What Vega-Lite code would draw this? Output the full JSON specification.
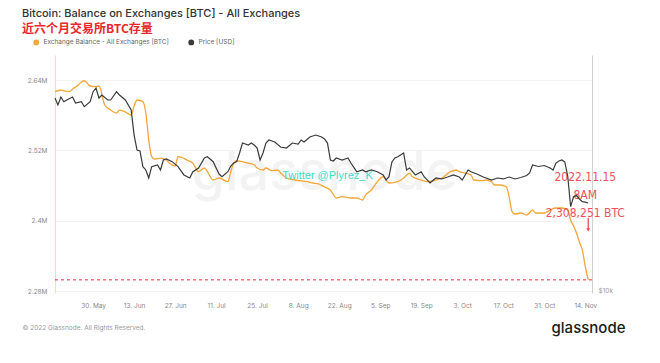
{
  "$schema": "https://vega.github.io/schema/vega-lite/v6.json",
  "width": 537,
  "height": 238,
  "autosize": {"type": "none"},
  "padding": {"left": 55, "top": 55, "right": 68, "bottom": 70},
  "background": "white",
  "config": {"view": {"stroke": null}, "font": "Inter"},
  "title": {
    "text": "Bitcoin: Balance on Exchanges [BTC] - All Exchanges",
    "subtitle": "近六个月交易所BTC存量",
    "anchor": "start",
    "frame": "group",
    "orient": "top",
    "dx": -33,
    "offset": 4,
    "font": "Inter",
    "fontSize": 11,
    "fontWeight": 500,
    "color": "#333333",
    "subtitleFont": "Noto Sans CJK SC",
    "subtitleFontSize": 12,
    "subtitleFontWeight": "bold",
    "subtitleColor": "#e8262c",
    "subtitlePadding": 5,
    "subtitleLineHeight": 13
  },
  "datasets": {
    "balance": [
      {"date": "2022-05-17", "value": 2620100},
      {"date": "2022-05-19", "value": 2623000},
      {"date": "2022-05-20", "value": 2621300},
      {"date": "2022-05-22", "value": 2620100},
      {"date": "2022-05-23", "value": 2624700},
      {"date": "2022-05-25", "value": 2631500},
      {"date": "2022-05-26", "value": 2636600},
      {"date": "2022-05-27", "value": 2638800},
      {"date": "2022-05-29", "value": 2629800},
      {"date": "2022-05-31", "value": 2628600},
      {"date": "2022-06-01", "value": 2629800},
      {"date": "2022-06-03", "value": 2597400},
      {"date": "2022-06-05", "value": 2588800},
      {"date": "2022-06-07", "value": 2583700},
      {"date": "2022-06-08", "value": 2588800},
      {"date": "2022-06-10", "value": 2585400},
      {"date": "2022-06-12", "value": 2580300},
      {"date": "2022-06-13", "value": 2595700},
      {"date": "2022-06-14", "value": 2605900},
      {"date": "2022-06-16", "value": 2603000},
      {"date": "2022-06-17", "value": 2583700},
      {"date": "2022-06-18", "value": 2537700},
      {"date": "2022-06-19", "value": 2509200},
      {"date": "2022-06-20", "value": 2505200},
      {"date": "2022-06-22", "value": 2506900},
      {"date": "2022-06-24", "value": 2503500},
      {"date": "2022-06-25", "value": 2498400},
      {"date": "2022-06-27", "value": 2493300},
      {"date": "2022-06-28", "value": 2509200},
      {"date": "2022-06-29", "value": 2508600},
      {"date": "2022-07-01", "value": 2503500},
      {"date": "2022-07-03", "value": 2498400},
      {"date": "2022-07-05", "value": 2483600},
      {"date": "2022-07-07", "value": 2489900},
      {"date": "2022-07-08", "value": 2483600},
      {"date": "2022-07-10", "value": 2469400},
      {"date": "2022-07-12", "value": 2472800},
      {"date": "2022-07-15", "value": 2466500},
      {"date": "2022-07-16", "value": 2483600},
      {"date": "2022-07-17", "value": 2498400},
      {"date": "2022-07-18", "value": 2502300},
      {"date": "2022-07-20", "value": 2500600},
      {"date": "2022-07-22", "value": 2498400},
      {"date": "2022-07-24", "value": 2495000},
      {"date": "2022-07-25", "value": 2489900},
      {"date": "2022-07-27", "value": 2486500},
      {"date": "2022-07-28", "value": 2489900},
      {"date": "2022-07-30", "value": 2485300},
      {"date": "2022-08-01", "value": 2486500},
      {"date": "2022-08-02", "value": 2481300},
      {"date": "2022-08-04", "value": 2472800},
      {"date": "2022-08-07", "value": 2469400},
      {"date": "2022-08-11", "value": 2466500},
      {"date": "2022-08-13", "value": 2464300},
      {"date": "2022-08-15", "value": 2462600},
      {"date": "2022-08-17", "value": 2457400},
      {"date": "2022-08-19", "value": 2452300},
      {"date": "2022-08-21", "value": 2438700},
      {"date": "2022-08-23", "value": 2440900},
      {"date": "2022-08-26", "value": 2438700},
      {"date": "2022-08-28", "value": 2438700},
      {"date": "2022-08-30", "value": 2435300},
      {"date": "2022-08-31", "value": 2443800},
      {"date": "2022-09-02", "value": 2452300},
      {"date": "2022-09-04", "value": 2466500},
      {"date": "2022-09-06", "value": 2475000},
      {"date": "2022-09-08", "value": 2464300},
      {"date": "2022-09-11", "value": 2466500},
      {"date": "2022-09-13", "value": 2472800},
      {"date": "2022-09-15", "value": 2481300},
      {"date": "2022-09-16", "value": 2475000},
      {"date": "2022-09-19", "value": 2469400},
      {"date": "2022-09-21", "value": 2466500},
      {"date": "2022-09-24", "value": 2469400},
      {"date": "2022-09-26", "value": 2472800},
      {"date": "2022-09-29", "value": 2483600},
      {"date": "2022-10-01", "value": 2486500},
      {"date": "2022-10-02", "value": 2483600},
      {"date": "2022-10-04", "value": 2481300},
      {"date": "2022-10-06", "value": 2477900},
      {"date": "2022-10-07", "value": 2469400},
      {"date": "2022-10-10", "value": 2468200},
      {"date": "2022-10-11", "value": 2469400},
      {"date": "2022-10-13", "value": 2466500},
      {"date": "2022-10-14", "value": 2460900},
      {"date": "2022-10-16", "value": 2460900},
      {"date": "2022-10-18", "value": 2458000},
      {"date": "2022-10-19", "value": 2440900},
      {"date": "2022-10-20", "value": 2415300},
      {"date": "2022-10-21", "value": 2411400},
      {"date": "2022-10-23", "value": 2413100},
      {"date": "2022-10-25", "value": 2409700},
      {"date": "2022-10-27", "value": 2418200},
      {"date": "2022-10-28", "value": 2413100},
      {"date": "2022-10-31", "value": 2413100},
      {"date": "2022-11-02", "value": 2418200},
      {"date": "2022-11-04", "value": 2421600},
      {"date": "2022-11-06", "value": 2421600},
      {"date": "2022-11-08", "value": 2418200},
      {"date": "2022-11-09", "value": 2401100},
      {"date": "2022-11-10", "value": 2391000},
      {"date": "2022-11-11", "value": 2378900},
      {"date": "2022-11-12", "value": 2363600},
      {"date": "2022-11-13", "value": 2349900},
      {"date": "2022-11-14", "value": 2321400},
      {"date": "2022-11-15", "value": 2299000}
    ],
    "price": [
      {"date": "2022-05-17", "price": 31120},
      {"date": "2022-05-18", "price": 29870},
      {"date": "2022-05-19", "price": 31300},
      {"date": "2022-05-20", "price": 30450},
      {"date": "2022-05-21", "price": 30760},
      {"date": "2022-05-23", "price": 31300},
      {"date": "2022-05-24", "price": 30220},
      {"date": "2022-05-26", "price": 30450},
      {"date": "2022-05-27", "price": 29570},
      {"date": "2022-05-29", "price": 30450},
      {"date": "2022-05-30", "price": 32300},
      {"date": "2022-05-31", "price": 33010},
      {"date": "2022-06-01", "price": 31120},
      {"date": "2022-06-02", "price": 31680},
      {"date": "2022-06-04", "price": 30760},
      {"date": "2022-06-05", "price": 30760},
      {"date": "2022-06-07", "price": 32300},
      {"date": "2022-06-08", "price": 31680},
      {"date": "2022-06-10", "price": 30760},
      {"date": "2022-06-12", "price": 29000},
      {"date": "2022-06-13", "price": 25030},
      {"date": "2022-06-14", "price": 22920},
      {"date": "2022-06-15", "price": 22790},
      {"date": "2022-06-16", "price": 20780},
      {"date": "2022-06-17", "price": 20380},
      {"date": "2022-06-18", "price": 19440},
      {"date": "2022-06-19", "price": 20780},
      {"date": "2022-06-21", "price": 20990},
      {"date": "2022-06-22", "price": 20380},
      {"date": "2022-06-23", "price": 21610},
      {"date": "2022-06-24", "price": 21740},
      {"date": "2022-06-26", "price": 21400},
      {"date": "2022-06-28", "price": 20780},
      {"date": "2022-06-30", "price": 19790},
      {"date": "2022-07-02", "price": 19440},
      {"date": "2022-07-03", "price": 20140},
      {"date": "2022-07-05", "price": 20620},
      {"date": "2022-07-07", "price": 21870},
      {"date": "2022-07-08", "price": 22030},
      {"date": "2022-07-10", "price": 21400},
      {"date": "2022-07-11", "price": 20620},
      {"date": "2022-07-12", "price": 19900},
      {"date": "2022-07-13", "price": 19590},
      {"date": "2022-07-15", "price": 20170},
      {"date": "2022-07-16", "price": 20860},
      {"date": "2022-07-17", "price": 21230},
      {"date": "2022-07-18", "price": 21400},
      {"date": "2022-07-19", "price": 22520},
      {"date": "2022-07-20", "price": 23880},
      {"date": "2022-07-22", "price": 23600},
      {"date": "2022-07-23", "price": 23880},
      {"date": "2022-07-24", "price": 23600},
      {"date": "2022-07-25", "price": 23190},
      {"date": "2022-07-26", "price": 21610},
      {"date": "2022-07-27", "price": 22520},
      {"date": "2022-07-28", "price": 23880},
      {"date": "2022-07-29", "price": 24310},
      {"date": "2022-07-31", "price": 24020},
      {"date": "2022-08-02", "price": 23330},
      {"date": "2022-08-04", "price": 23190},
      {"date": "2022-08-06", "price": 23880},
      {"date": "2022-08-08", "price": 23740},
      {"date": "2022-08-09", "price": 24310},
      {"date": "2022-08-10", "price": 24020},
      {"date": "2022-08-12", "price": 24740},
      {"date": "2022-08-14", "price": 25030},
      {"date": "2022-08-15", "price": 24890},
      {"date": "2022-08-16", "price": 24740},
      {"date": "2022-08-17", "price": 24450},
      {"date": "2022-08-18", "price": 23880},
      {"date": "2022-08-19", "price": 21610},
      {"date": "2022-08-20", "price": 21480},
      {"date": "2022-08-21", "price": 21870},
      {"date": "2022-08-23", "price": 21610},
      {"date": "2022-08-25", "price": 21870},
      {"date": "2022-08-26", "price": 21230},
      {"date": "2022-08-28", "price": 20170},
      {"date": "2022-08-30", "price": 20380},
      {"date": "2022-08-31", "price": 20170},
      {"date": "2022-09-02", "price": 20380},
      {"date": "2022-09-04", "price": 20170},
      {"date": "2022-09-06", "price": 19790},
      {"date": "2022-09-07", "price": 19210},
      {"date": "2022-09-08", "price": 19590},
      {"date": "2022-09-09", "price": 21360},
      {"date": "2022-09-10", "price": 21870},
      {"date": "2022-09-11", "price": 22030},
      {"date": "2022-09-13", "price": 22520},
      {"date": "2022-09-14", "price": 20380},
      {"date": "2022-09-15", "price": 20620},
      {"date": "2022-09-17", "price": 19790},
      {"date": "2022-09-19", "price": 20170},
      {"date": "2022-09-20", "price": 19590},
      {"date": "2022-09-22", "price": 18880},
      {"date": "2022-09-24", "price": 19440},
      {"date": "2022-09-26", "price": 19330},
      {"date": "2022-09-28", "price": 19550},
      {"date": "2022-09-30", "price": 19790},
      {"date": "2022-10-02", "price": 19550},
      {"date": "2022-10-03", "price": 19210},
      {"date": "2022-10-05", "price": 20380},
      {"date": "2022-10-06", "price": 20170},
      {"date": "2022-10-08", "price": 19900},
      {"date": "2022-10-10", "price": 19590},
      {"date": "2022-10-13", "price": 19210},
      {"date": "2022-10-15", "price": 19440},
      {"date": "2022-10-17", "price": 19330},
      {"date": "2022-10-19", "price": 19550},
      {"date": "2022-10-21", "price": 19330},
      {"date": "2022-10-23", "price": 19500},
      {"date": "2022-10-25", "price": 19730},
      {"date": "2022-10-26", "price": 20020},
      {"date": "2022-10-27", "price": 20990},
      {"date": "2022-10-29", "price": 20800},
      {"date": "2022-10-31", "price": 20920},
      {"date": "2022-11-02", "price": 20620},
      {"date": "2022-11-03", "price": 20380},
      {"date": "2022-11-04", "price": 21230},
      {"date": "2022-11-05", "price": 21480},
      {"date": "2022-11-06", "price": 21610},
      {"date": "2022-11-07", "price": 21360},
      {"date": "2022-11-08", "price": 19670},
      {"date": "2022-11-09", "price": 16420},
      {"date": "2022-11-10", "price": 17410},
      {"date": "2022-11-11", "price": 17530},
      {"date": "2022-11-12", "price": 17180},
      {"date": "2022-11-13", "price": 16910},
      {"date": "2022-11-14", "price": 16860},
      {"date": "2022-11-15", "price": 16780}
    ],
    "notes": [
      {"date": "2022-11-14", "value": 2483000, "label": "2022.11.15\n8AM\n2,308,251 BTC"}
    ],
    "credit": [
      {"date": "2022-08-18", "value": 2476200, "label": "Twitter @Plyrez_K"}
    ],
    "watermark": [
      {"date": "2022-08-17", "value": 2479600, "label": "glassnode"}
    ],
    "arrow": [
      {"date": "2022-11-15", "top": 2404500, "bottom": 2384500}
    ],
    "last": [
      {"date": "2022-11-15", "value": 2299000}
    ]
  },
  "layer": [
    {
      "layer": [
        {
          "data": {"name": "watermark"},
          "mark": {"type": "text", "fontSize": 54, "fontWeight": 500, "font": "Inter", "color": "#000000", "opacity": 0.045, "align": "center", "baseline": "middle"},
          "encoding": {
            "x": {"field": "date", "type": "temporal"},
            "y": {"field": "value", "type": "quantitative"},
            "text": {"field": "label"}
          }
        },
        {
          "data": {"name": "balance"},
          "mark": {"type": "line", "strokeWidth": 1.3, "interpolate": "monotone"},
          "encoding": {
            "x": {
              "field": "date",
              "type": "temporal",
              "scale": {
                "type": "utc",
                "domain": [
                  {"year": 2022, "month": 5, "date": 17, "utc": true},
                  {"year": 2022, "month": 11, "date": 16, "hours": 7, "utc": true}
                ]
              },
              "axis": {
                "orient": "bottom",
                "values": [
                  {"year": 2022, "month": 5, "date": 30, "utc": true},
                  {"year": 2022, "month": 6, "date": 13, "utc": true},
                  {"year": 2022, "month": 6, "date": 27, "utc": true},
                  {"year": 2022, "month": 7, "date": 11, "utc": true},
                  {"year": 2022, "month": 7, "date": 25, "utc": true},
                  {"year": 2022, "month": 8, "date": 8, "utc": true},
                  {"year": 2022, "month": 8, "date": 22, "utc": true},
                  {"year": 2022, "month": 9, "date": 5, "utc": true},
                  {"year": 2022, "month": 9, "date": 19, "utc": true},
                  {"year": 2022, "month": 10, "date": 3, "utc": true},
                  {"year": 2022, "month": 10, "date": 17, "utc": true},
                  {"year": 2022, "month": 10, "date": 31, "utc": true},
                  {"year": 2022, "month": 11, "date": 14, "utc": true}
                ],
                "format": "%-d. %b",
                "labelFontSize": 6.5,
                "labelColor": "#888888",
                "labelPadding": 9,
                "domain": false,
                "ticks": false,
                "grid": false,
                "title": "© 2022 Glassnode. All Rights Reserved.",
                "titleX": -33,
                "titleY": 34,
                "titleAlign": "left",
                "titleAnchor": null,
                "titleBaseline": "middle",
                "titleFontSize": 6.5,
                "titleFontWeight": "normal",
                "titleColor": "#999999"
              }
            },
            "y": {
              "field": "value",
              "type": "quantitative",
              "scale": {"domain": [2276600, 2682700], "nice": false, "zero": false},
              "axis": {
                "orient": "left",
                "values": [2280000, 2400000, 2520000, 2640000],
                "format": ".3~s",
                "labelFontSize": 6.5,
                "labelColor": "#888888",
                "labelPadding": 8,
                "domainColor": "#f7dcb4",
                "ticks": false,
                "grid": true,
                "gridColor": "#f2f2f2",
                "title": null
              }
            },
            "color": {
              "datum": "Exchange Balance - All Exchanges [BTC]",
              "type": "nominal",
              "scale": {
                "domain": ["Exchange Balance - All Exchanges [BTC]", "Price [USD]"],
                "range": ["#f4a637", "#3a3a3a"]
              },
              "legend": {
                "orient": "none",
                "legendX": -22,
                "legendY": -16,
                "direction": "horizontal",
                "title": null,
                "symbolType": "circle",
                "symbolSize": 8,
                "symbolStrokeWidth": 3,
                "labelFontSize": 6.5,
                "labelColor": "#666666",
                "labelOffset": 4,
                "columnPadding": 14
              }
            }
          }
        },
        {
          "data": {"name": "last"},
          "mark": {"type": "rule", "color": "#e8303a", "strokeDash": [3, 3], "strokeWidth": 1},
          "encoding": {
            "y": {"field": "value", "type": "quantitative"}
          }
        },
        {
          "data": {"name": "arrow"},
          "mark": {"type": "rule", "color": "#ee3d48", "strokeWidth": 1.2},
          "encoding": {
            "x": {"field": "date", "type": "temporal"},
            "y": {"field": "top", "type": "quantitative"},
            "y2": {"field": "bottom"}
          }
        },
        {
          "data": {"name": "arrow"},
          "mark": {"type": "point", "shape": "triangle-down", "filled": true, "size": 14, "color": "#ee3d48", "opacity": 1},
          "encoding": {
            "x": {"field": "date", "type": "temporal"},
            "y": {"field": "bottom", "type": "quantitative"}
          }
        },
        {
          "data": {"name": "notes"},
          "mark": {"type": "text", "font": "Liberation Sans Narrow, DejaVu Sans Condensed, sans-serif", "fontSize": 12, "color": "#ee3d48", "opacity": 0.9, "align": "center", "baseline": "top", "lineBreak": "\n", "lineHeight": 18},
          "encoding": {
            "x": {"field": "date", "type": "temporal"},
            "y": {"field": "value", "type": "quantitative"},
            "text": {"field": "label"}
          }
        },
        {
          "data": {"name": "credit"},
          "mark": {"type": "text", "font": "Liberation Sans", "fontSize": 11, "color": "#3fdccb", "align": "center", "baseline": "middle"},
          "encoding": {
            "x": {"field": "date", "type": "temporal"},
            "y": {"field": "value", "type": "quantitative"},
            "text": {"field": "label"}
          }
        }
      ]
    },
    {
      "data": {"name": "price"},
      "mark": {"type": "line", "strokeWidth": 1.2},
      "encoding": {
        "x": {"field": "date", "type": "temporal"},
        "y": {
          "field": "price",
          "type": "quantitative",
          "scale": {"type": "log", "domain": [9883, 40080], "nice": false},
          "axis": {
            "orient": "right",
            "values": [10000],
            "labelExpr": "'$10k'",
            "labelFontSize": 6.5,
            "labelColor": "#999999",
            "labelPadding": 6,
            "domainColor": "#d0d0d0",
            "ticks": false,
            "grid": false,
            "title": "glassnode",
            "titleAngle": 0,
            "titleX": -4,
            "titleY": 272,
            "titleAlign": "center",
            "titleBaseline": "middle",
            "titleFont": "Inter",
            "titleFontSize": 15,
            "titleFontWeight": 500,
            "titleColor": "#1a1a1a"
          }
        },
        "color": {"datum": "Price [USD]", "type": "nominal"}
      }
    }
  ],
  "resolve": {"scale": {"y": "independent"}, "axis": {"y": "independent"}}
}
